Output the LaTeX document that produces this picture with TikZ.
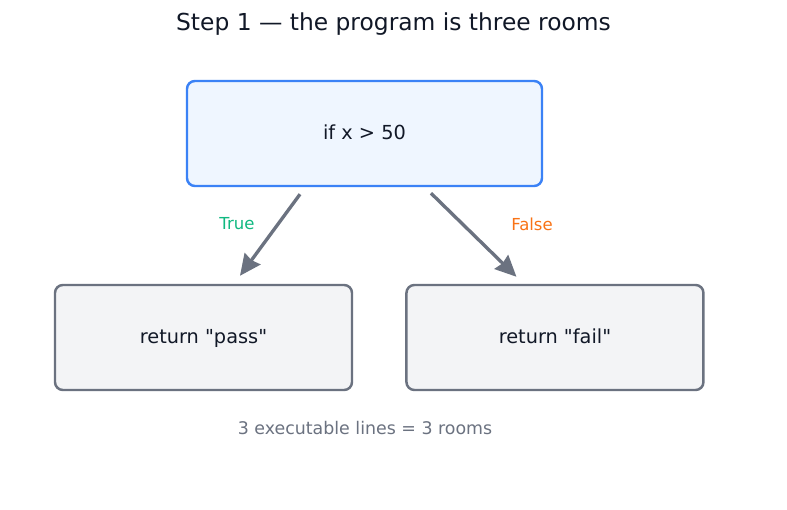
\documentclass[tikz,border=0pt]{standalone}
\usepackage{fontspec}
\setmainfont{DejaVu Sans}
\usepackage{xcolor}
\usepackage{tikz}
\usetikzlibrary{arrows.meta, positioning, calc}

\definecolor{condblue}{HTML}{3B82F6}
\definecolor{condfill}{HTML}{EFF6FF}
\definecolor{roomgray}{HTML}{6B7280}
\definecolor{roomfill}{HTML}{F3F4F6}
\definecolor{truegreen}{HTML}{10B981}
\definecolor{falseorange}{HTML}{F97316}
\definecolor{inkdark}{HTML}{111827}

\begin{document}
\begin{tikzpicture}[node distance=1.04cm, auto]
        \tikzstyle{room} = [rectangle, draw=roomgray, fill=roomfill, line width=1.4pt, rounded corners=4.5pt, minimum width=5.94cm, minimum height=2.1cm, text height=1.6ex, text depth=.45ex, text=inkdark, font=\fontsize{11}{13}\selectfont]
        \tikzstyle{cond} = [room, draw=condblue, fill=condfill, minimum width=7.1cm]
        \tikzstyle{line} = [draw=roomgray, -{Stealth[length=12pt, width=11pt, inset=1pt]}, line width=1.9pt]
        \tikzstyle{branch} = [font=\fontsize{9.4}{11}\selectfont]

        \fill[white] (0,0) rectangle (15.74,-10.2);
        \useasboundingbox (0,0) rectangle (15.74,-10.2);

        \node [text=inkdark, font=\fontsize{13.3}{16}\selectfont] (title) at (7.87,-0.48) {Step 1 — the program is three rooms};

        \node [cond] (cond) at (7.29,-2.67) {if x > 50};
        \node [room] (pass) at (4.07,-6.75) {return \textquotedbl pass\textquotedbl};
        \node [room, right=of pass] (fail) {return \textquotedbl fail\textquotedbl};

        \path [line] ($(cond.south)+(-1.29,-0.14)$) -- ($(pass.north)+(0.73,0.16)$);
        \path [line] ($(cond.south)+(1.33,-0.12)$) -- ($(fail.north)+(-0.77,0.14)$);
        \node [branch, text=truegreen] (truelbl) at (4.74,-4.48) {True};
        \node [branch, text=falseorange] (falselbl) at (10.64,-4.48) {False};

        \node [text=roomgray, font=\fontsize{9.9}{12}\selectfont] (note) at (7.30,-8.56) {3 executable lines = 3 rooms};
    \end{tikzpicture}
\end{document}
